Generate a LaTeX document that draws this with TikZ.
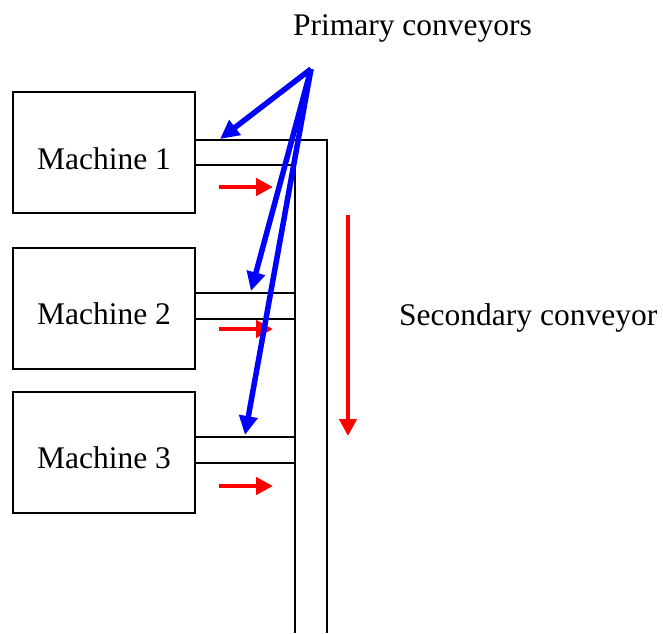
\documentclass[tikz,border=0pt]{standalone}
\usepackage{fontspec}
\setmainfont{Liberation Serif}
\usetikzlibrary{arrows.meta,positioning}

\begin{document}
\begin{tikzpicture}[x=1pt,y=-1pt]
                \tikzset{machine/.style={draw, line width=2pt, minimum width=182pt, minimum height=121pt, inner sep=0pt, text height=33pt, text depth=0pt, font=\fontsize{31.5}{36}\selectfont},
                belt/.style={line width=2pt},
                flow/.style={red, line width=4.5pt, -{Triangle[length=17pt,width=17pt]}},
                pointer/.style={blue, line width=5.5pt, -{Triangle[length=19pt,width=18pt]}},
                caption/.style={font=\fontsize{31.5}{36}\selectfont, inner sep=0pt}}
                \useasboundingbox (0,0) rectangle (663,633);

                \node[machine] (m1) at (104,152.5) {Machine 1};
                \node[machine] (m2) at (104,308) {Machine 2};
                \node[machine] (m3) at (104,452) {Machine 3};

                % secondary conveyor
                \draw[belt] (m1.east |- 0,140) -- (327,140) -- (327,633);
                \draw[belt] (295,165) -- (295,633);

                % primary conveyors
                \draw[belt] (m1.east |- 0,165) -- (295,165);
                \draw[belt] (m2.east |- 0,293) -- (295,293);
                \draw[belt] (m2.east |- 0,319) -- (295,319);
                \draw[belt] (m3.east |- 0,437) -- (295,437);
                \draw[belt] (m3.east |- 0,463) -- (295,463);

                \draw[flow] (219,187) -- (273,187);
                \draw[flow] (219,329) -- (273,329);
                \draw[flow] (219,486) -- (273,486);
                \draw[flow] (348,215) -- (348,436);

                \node[caption, anchor=base] (prim) at (412.5,35) {Primary conveyors};
                \node[caption, anchor=base west] (sec) at (399,325) {Secondary conveyor};

                \coordinate (src) at (311,69);
                \draw[pointer] (src) -- (220,139);
                \draw[pointer] (src) -- (251,291);
                \draw[pointer] (src) -- (245,435);
            \end{tikzpicture}
\end{document}
